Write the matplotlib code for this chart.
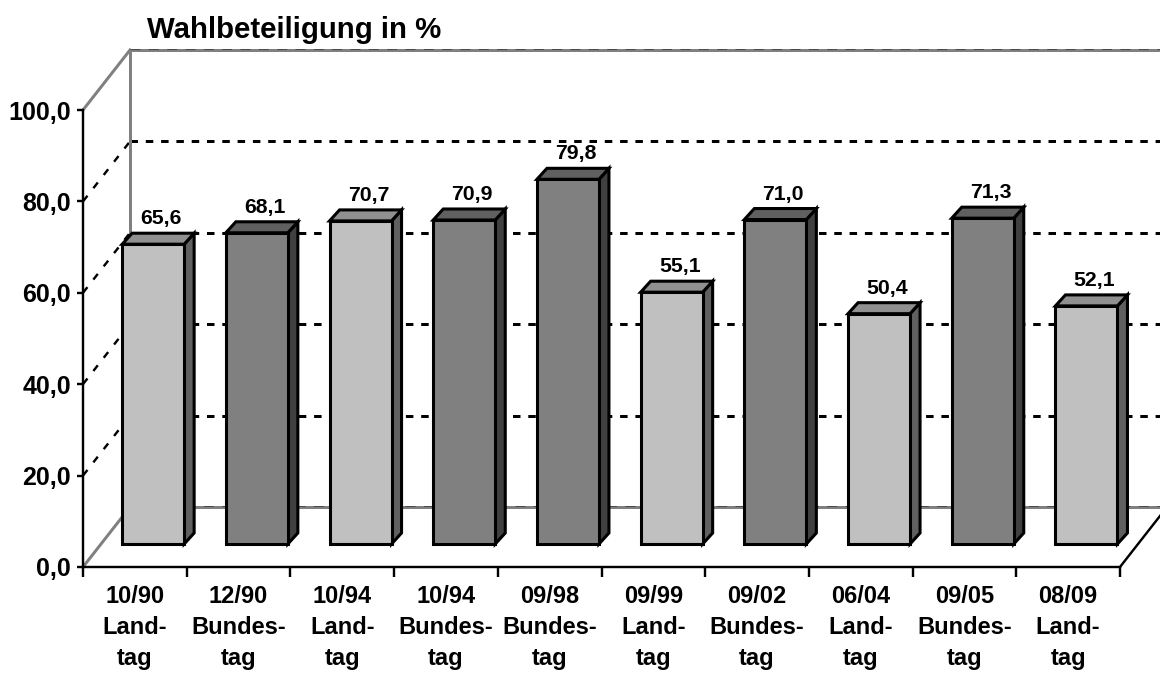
import matplotlib
matplotlib.use("Agg")
import matplotlib.pyplot as plt
from matplotlib.patches import Polygon
import numpy as np

plt.rcParams['font.family'] = ['Liberation Sans', 'DejaVu Sans']
plt.rcParams['font.weight'] = 'bold'

# Data
dates = ["10/90", "12/90", "10/94", "10/94", "09/98", "09/99", "09/02", "06/04", "09/05", "08/09"]
kinds = ["Land", "Bund", "Land", "Bund", "Bund", "Land", "Bund", "Land", "Bund", "Land"]
values = [65.6, 68.1, 70.7, 70.9, 79.8, 55.1, 71.0, 50.4, 71.3, 52.1]
y_ticks = [0, 20, 40, 60, 80, 100]
names = {"Land": "Land-\ntag", "Bund": "Bundes-\ntag"}

# Colours: front, side, top
colours = {"Land": ("#c0c0c0", "#606060", "#909090"),
           "Bund": ("#808080", "#404040", "#606060")}

fig = plt.figure(figsize=(11.6, 6.73), dpi=100)
ax = fig.add_axes([83/1160, 1-567/673, 1037/1160, 457/673])
ax.set_xlim(0, 10)
ax.set_ylim(0, 100)

# pixel to data helpers
px = 10/1037
py = 100/457
wall_x = 47*px
wall_y = 60*py
right_end = 1175*px - 83*px
lw2 = 2.4*0.72
lw3 = 3*0.72

# walls and grid at the back
for v in y_ticks:
    if v in (0, 100):
        ax.plot([wall_x, right_end], [v+wall_y, v+wall_y], color="#808080", lw=lw3, clip_on=False, zorder=1)
        ax.plot([wall_x, right_end], [v+wall_y+0.2, v+wall_y+0.2], color="#404040", lw=0.6,
                dashes=(12, 10), clip_on=False, zorder=1.1)
        ax.plot([0, wall_x], [v, v+wall_y], color="#808080", lw=lw3, clip_on=False, zorder=1)
    else:
        ax.plot([wall_x, right_end], [v+wall_y, v+wall_y], color="black", lw=lw3,
                dashes=(2.5, 2.6), clip_on=False, zorder=1)
        ax.plot([0, wall_x], [v, v+wall_y], color="black", lw=lw2,
                dashes=(3, 4), clip_on=False, zorder=1)
ax.plot([wall_x, wall_x], [wall_y, 100+wall_y], color="#808080", lw=lw3, clip_on=False, zorder=1)
# floor edge on the right
ax.plot([10, 10+wall_x], [0, wall_y], color="black", lw=lw2, clip_on=False, zorder=1)

# bars
x = np.arange(len(values)) + 0.5
bar_dx = 18.3*px
bar_base = 23*py
bar_w = 62*px
side_x = 10*px
side_y = 11*py
front = [colours[k][0] for k in kinds]
ax.bar(x+bar_dx, values, bottom=bar_base, width=bar_w, color=front, edgecolor="black",
       linewidth=2.2, joinstyle='miter', clip_on=False, zorder=3)
for xi, v, k in zip(x, values, kinds):
    l = xi + bar_dx - bar_w/2
    r = xi + bar_dx + bar_w/2
    t = bar_base + v
    ax.add_patch(Polygon([(r, bar_base), (r+side_x, bar_base+side_y), (r+side_x, t+side_y), (r, t)],
                         facecolor=colours[k][1], edgecolor="black", lw=2.2, clip_on=False, zorder=2.5))
    ax.add_patch(Polygon([(l, t), (l+side_x, t+side_y), (r+side_x, t+side_y), (r, t)],
                         facecolor=colours[k][2], edgecolor="black", lw=2.2, clip_on=False, zorder=2.5))
    ax.text(xi + bar_dx + 8*px, t + side_y + 14.5*py, ("%.1f" % v).replace(".", ","),
            ha="center", va="center", fontsize=15.3, fontweight="bold", zorder=5)

# axes
for s in ("top", "right"):
    ax.spines[s].set_visible(False)
for s in ("left", "bottom"):
    ax.spines[s].set_linewidth(lw2)
    ax.spines[s].set_zorder(4)
ax.patch.set_visible(False)
ax.set_yticks(y_ticks)
ax.set_yticklabels(["%d,0" % v for v in y_ticks], fontsize=18, fontweight="bold")
ax.tick_params(axis="y", length=4, width=lw2, pad=4.5)
ax.set_xticks(np.arange(len(values)+1))
ax.set_xticklabels([])
ax.tick_params(axis="x", which="major", length=7, width=lw2)
ax.set_xticks(x, [d + "\n" + names[k] for d, k in zip(dates, kinds)], minor=True,
              fontsize=17, fontweight="bold")
ax.tick_params(axis="x", which="minor", length=0, pad=13)
for lab in ax.get_xticklabels(minor=True):
    lab.set_linespacing(1.45)

fig.text(147/1160, 1-30.5/673, "Wahlbeteiligung in %", fontsize=21.2, fontweight="bold",
         ha="left", va="center")

plt.savefig("out.png", dpi=100)
